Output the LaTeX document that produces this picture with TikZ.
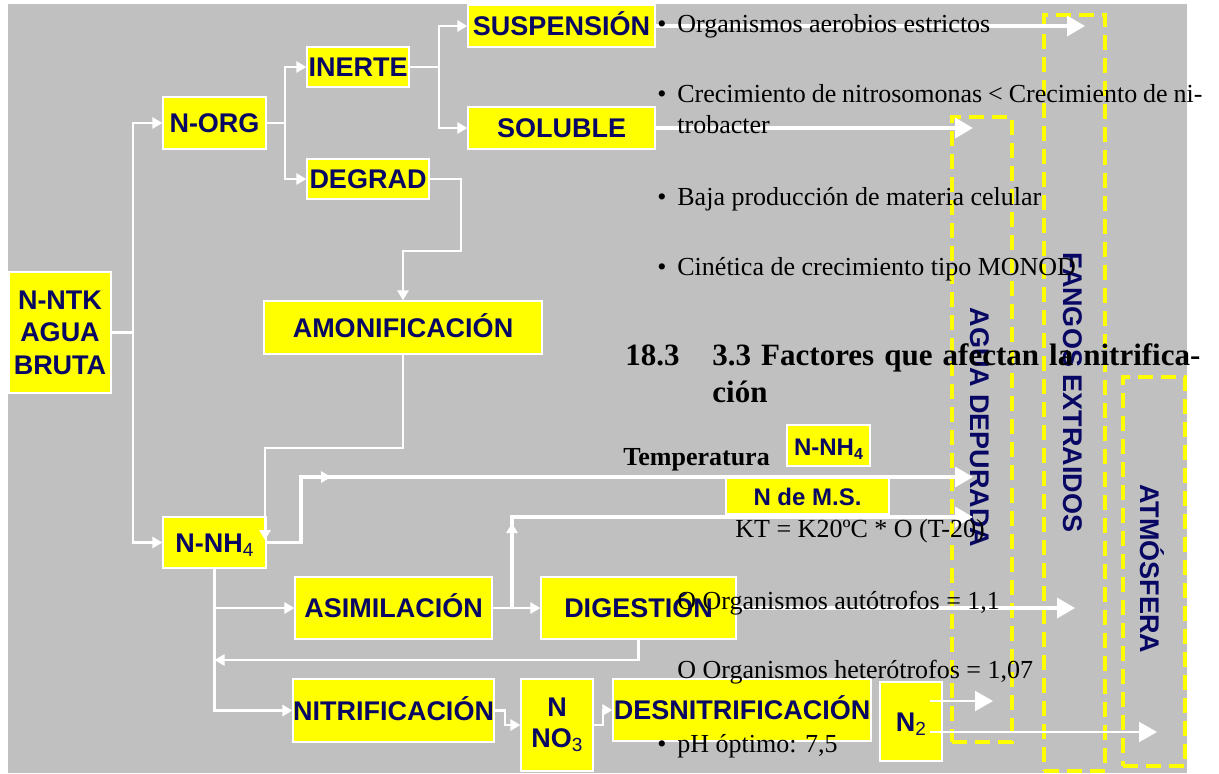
\documentclass[tikz,border=0pt]{standalone}
\usepackage{fontspec}
\setmainfont{Liberation Serif}
\newfontfamily\dgfont{Liberation Sans}
\usetikzlibrary{arrows.meta,decorations.markings}
\definecolor{navy}{RGB}{8,8,100}
\definecolor{bgc}{RGB}{192,192,192}
\definecolor{yel}{RGB}{255,255,0}
\newcommand\dsub[1]{\raisebox{-2.2pt}{\fontsize{9.5}{9.5}\selectfont\mdseries #1}}
\newcommand\bsub[1]{\raisebox{-2pt}{\fontsize{8}{8}\selectfont #1}}
\begin{document}
\begin{tikzpicture}[x=0.5pt,y=-0.5pt,
  box/.style={fill=yel, draw=white, line width=0.6pt, inner sep=0pt, text=navy,
    font=\dgfont\bfseries\fontsize{13.5}{16.25}\selectfont, align=center},
  one/.style={text height=9.7pt, text depth=0pt},
  conn/.style={draw=white, line width=1.3pt},
  sarr/.style={conn, -{Triangle[length=5pt,width=5.5pt]}},
  barr/.style={draw=white, line width=1.8pt, -{Triangle[length=9pt,width=10pt]}},
  tarr/.style={draw=white, line width=1.1pt, -{Triangle[length=9pt,width=10pt]}},
  col/.style={draw=yel, line width=2pt, dash pattern=on 7.5pt off 4pt, inner sep=0pt},
  vlab/.style={text=navy, font=\dgfont\bfseries\fontsize{13.5}{16}\selectfont, rotate=-90, inner sep=0pt},
  txt/.style={inner sep=0pt, anchor=base west, font=\fontsize{13}{15}\selectfont},
  hd/.style={inner sep=0pt, anchor=base west, font=\bfseries\fontsize{15.5}{18}\selectfont},
  midup/.style={postaction={decorate, decoration={markings,
    mark=at position #1 with {\arrow[white]{Triangle[length=5pt,width=5.5pt]}}}}}
]
\fill[white] (0,0) rectangle (1219,773);
\useasboundingbox (0,0) rectangle (1219,773);
\fill[bgc] (8,4) rectangle (1187,773);

% dashed destination columns
\node[col, minimum width=30pt, minimum height=312.5pt] (agua) at (982,429.5) {};
\node[col, minimum width=30.5pt, minimum height=378pt] (fangos) at (1074.5,393) {};
\node[col, minimum width=31pt, minimum height=194.5pt] (atm) at (1154,571.5) {};
\node[vlab] (laga) at (980,427.5) {AGUA DEPURADA};
\node[vlab] (lfan) at (1073,392.5) {FANGOS EXTRAIDOS};
\node[vlab] (latm) at (1152,568.5) {ATMÓSFERA};

% boxes
\node[box, minimum width=51pt, minimum height=60.5pt] (ntk) at (60,332.5) {N-NTK\\AGUA\\BRUTA};
\node[box, one, minimum width=51.5pt, minimum height=26pt] (norg) at (214.5,123) {N-ORG};
\node[box, one, minimum width=51pt, minimum height=20pt] (inerte) at (358,67) {INERTE};
\node[box, one, minimum width=61pt, minimum height=20pt] (degrad) at (368,179) {DEGRAD};
\node[box, one, minimum width=93.5pt, minimum height=21pt] (susp) at (561.5,26) {SUSPENSIÓN};
\node[box, one, minimum width=93.5pt, minimum height=21pt] (sol) at (561.5,128) {SOLUBLE};
\node[box, one, minimum width=139pt, minimum height=26.5pt] (amon) at (403,327.5) {AMONIFICACIÓN};
\node[box, one, minimum width=51.5pt, minimum height=25.5pt] (nh4) at (214.5,542.5) {N-NH\dsub{4}};
\node[box, one, minimum width=98.5pt, minimum height=31pt] (asim) at (393.5,608) {ASIMILACIÓN};
\node[box, one, minimum width=97.5pt, minimum height=31pt] (dig) at (638.5,608) {DIGESTIÓN};
\node[box, one, minimum width=98.5pt, minimum height=31.5pt] (nitr) at (393.5,710.5) {NITRIFICACIÓN};
\node[box, minimum width=36pt, minimum height=46pt, font=\dgfont\bfseries\fontsize{13.5}{15.5}\selectfont] (no3) at (557,725) {N\\NO\dsub{3}};
\node[box, one, minimum width=129pt, minimum height=31pt] (desn) at (742,710) {DESNITRIFICACIÓN};
\node[box, one, minimum width=31pt, minimum height=39.5pt] (n2) at (911,721.5) {N\dsub{2}};
\node[box, one, minimum width=41.5pt, minimum height=20.5pt, font=\dgfont\bfseries\fontsize{12}{14}\selectfont] (nh4b) at (828.5,445.5) {N-NH\bsub{4}};
\node[box, one, minimum width=81.5pt, minimum height=18pt, font=\dgfont\bfseries\fontsize{12}{14}\selectfont] (nms) at (807.5,496) {N de M.S.};

% junction coordinates
\coordinate (t1) at (133,332.5);
\coordinate (t2) at (285,123);
\coordinate (t3) at (439,67);
\coordinate (j1) at (301,542.5);
\coordinate (j2) at (512,608);
\coordinate (r1) at (214.5,660);
\coordinate (agin0) at (973,128);
\coordinate (agin1) at (973,477);
\coordinate (agin2) at (973,517);
\coordinate (agin3) at (993,701);
\coordinate (fgin1) at (1085,26);
\coordinate (fgin2) at (1075,608);
\coordinate (atin1) at (1157,732);
\coordinate (n2a) at (930,701);
\coordinate (n2b) at (930,732);

% connectors
\draw[conn] (ntk.east) -- (t1);
\draw[sarr] (t1) |- (norg.west);
\draw[sarr] (t1) |- (nh4.west);
\draw[conn] (norg.east) -- (t2);
\draw[sarr] (t2) |- (inerte.west);
\draw[sarr] (t2) |- (degrad.west);
\draw[conn] (inerte.east) -- (t3);
\draw[sarr] (t3) |- (susp.west);
\draw[sarr] (t3) |- (sol.west);
\draw[sarr] (degrad.east) -| (461,251) -| (amon.north);
\draw[sarr] (amon.south) |- (265,448) -- (265,540);
\draw[barr, midup=65pt] (nh4.east) -- (j1) |- (agin1);
\draw[sarr] (nh4.south) |- (asim.west);
\draw[sarr] (nh4.south) |- (nitr.west);
\draw[sarr] (asim.east) -- (dig.west);
\draw[barr, midup=42.5pt] (j2) |- (agin2);
\draw[sarr] (dig.south) |- (r1);
\draw[barr] (dig.east) -- (fgin2);
\draw[barr] (susp.east) -- (fgin1);
\draw[barr] (sol.east) -- (agin0);
\draw[sarr] (nitr.east) -- (505,710.5) |- (no3.west);
\draw[sarr] (no3.east) -- (603,725) |- (desn.west);
\draw[tarr] (n2a) -- (agin3);
\draw[tarr] (n2b) -- (atin1);

% overlaid document text
\node[txt] (l1) at (677,32) {\llap{\textbullet\hspace{5.5pt}}Organismos aerobios estrictos};
\node[txt] (l2) at (677,102) {\llap{\textbullet\hspace{5.5pt}}\makebox[262.5pt][s]{Crecimiento de nitrosomonas < Crecimiento de ni-}};
\node[txt] (l3) at (677,133) {trobacter};
\node[txt] (l4) at (677,205) {\llap{\textbullet\hspace{5.5pt}}Baja producción de materia celular};
\node[txt] (l5) at (677,275) {\llap{\textbullet\hspace{5.5pt}}Cinética de crecimiento tipo MONOD};
\node[hd] (h1) at (625,365) {18.3};
\node[hd] (h2) at (712,365) {\makebox[244pt][s]{3.3 Factores que afectan la nitrifica-}};
\node[hd] (h3) at (712,402) {ción};
\node[txt, font=\bfseries\fontsize{13}{15}\selectfont] (tp) at (623,465) {Temperatura};
\node[txt] (kt) at (735,537) {KT = K20ºC * O (T-20)};
\node[txt] (o1) at (677,609) {O Organismos autótrofos = 1,1};
\node[txt] (o2) at (677,678) {O Organismos heterótrofos = 1,07};
\node[txt] (ph) at (677,752) {\llap{\textbullet\hspace{5.5pt}}pH óptimo: 7,5};
\end{tikzpicture}
\end{document}
